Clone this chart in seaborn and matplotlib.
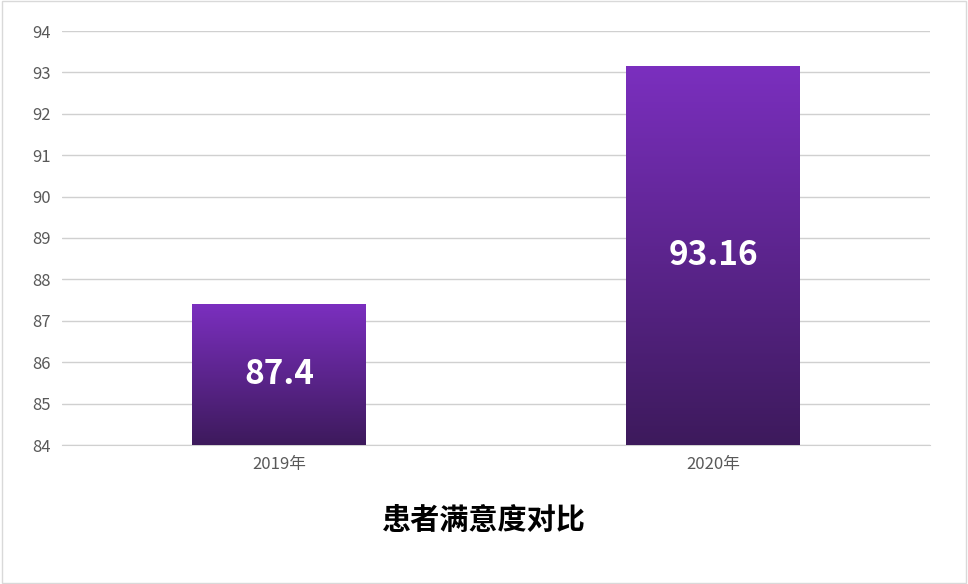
import numpy as np
import pandas as pd
import matplotlib.pyplot as plt
import seaborn as sns

years = ["2019年", "2020年"]
scores = [87.4, 93.16]
labels = ["87.4", "93.16"]

sns.set_style("white")
plt.rcParams['font.family'] = ['Noto Sans CJK SC', 'DejaVu Sans']

df = pd.DataFrame({"year": years, "score": scores})

fig = plt.figure(figsize=(9.68, 5.84), dpi=100)
ax = fig.add_axes([62 / 968, 1 - 445 / 584, 868 / 968, 414 / 584])
sns.barplot(data=df, x="year", y="score", ax=ax, width=0.4, color="#6a2aa8")
ax.set_ylim(84, 94)
ax.set_xlim(-0.5, 1.5)
ax.set_yticks(range(84, 95))
ax.yaxis.grid(True, color="#d0d0d0", linewidth=1)
ax.set_axisbelow(True)
for s in ["top", "right", "left"]:
    ax.spines[s].set_visible(False)
ax.spines["bottom"].set_color("#d0d0d0")
ax.tick_params(axis="both", length=0, labelsize=12, colors="#595959", pad=8)
ax.set_xlabel("")
ax.set_ylabel("")

# gradient fill on each bar
grad = np.linspace(0, 1, 256).reshape(-1, 1)
cmap = sns.blend_palette(["#3d1a5c", "#7b2fbf"], as_cmap=True)
for patch, lab in zip(ax.patches, labels):
    x0, y0 = patch.get_x(), patch.get_y()
    w, h = patch.get_width(), patch.get_height()
    ylo = 84
    im = ax.imshow(grad, extent=[x0, x0 + w, ylo, y0 + h], origin="lower",
                   cmap=cmap, aspect="auto", zorder=3)
    im.set_clip_path(patch)
    patch.set_edgecolor("none")
    ax.text(x0 + w / 2, (ylo + y0 + h) / 2, lab, ha="center", va="center",
            color="white", fontsize=24, fontweight="bold", zorder=4)
ax.set_xlim(-0.5, 1.5)
ax.set_ylim(84, 94)

fig.text(0.5, 1 - 520 / 584, "患者满意度对比", ha="center", va="center",
         fontsize=21, fontweight="bold", color="black")
fig.patches.append(plt.Rectangle((0.002, 0.002), 0.996, 0.996, transform=fig.transFigure,
                                 fill=False, edgecolor="#d9d9d9", linewidth=1))
fig.savefig("out.png", dpi=100)
